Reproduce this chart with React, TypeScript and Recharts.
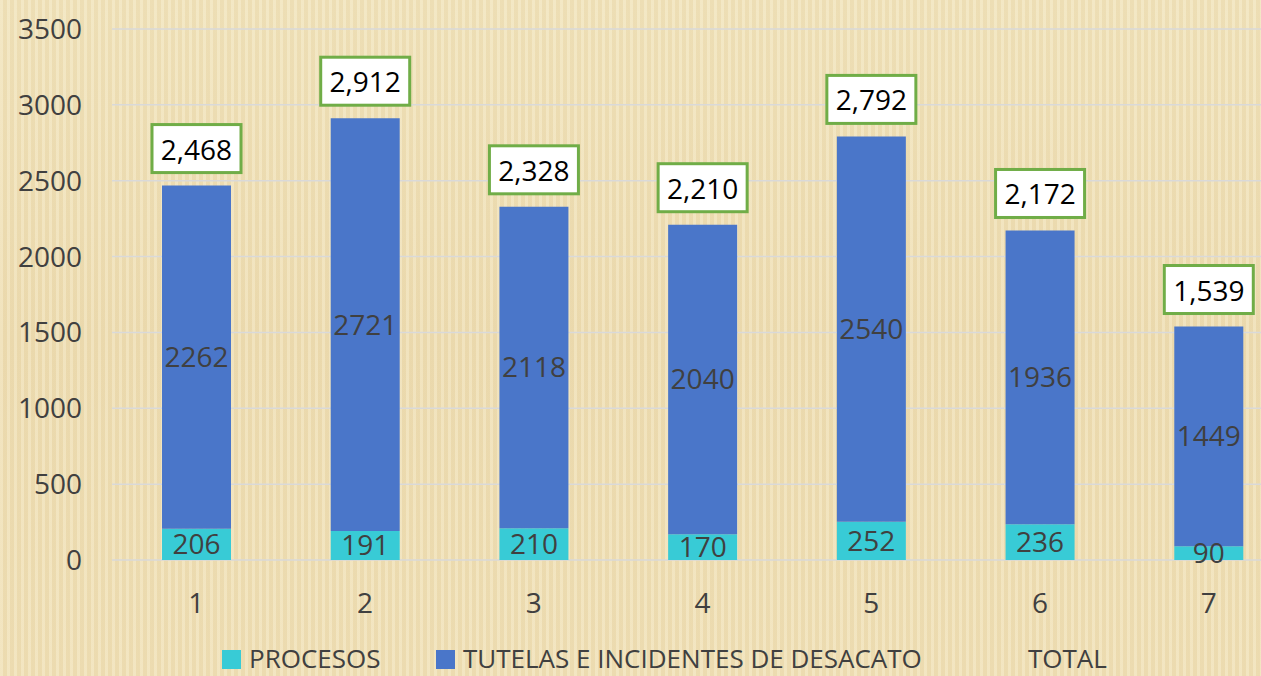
import { BarChart, Bar, XAxis, YAxis, CartesianGrid, LabelList } from 'recharts'

const CATEGORIES = ['1', '2', '3', '4', '5', '6', '7']
const PROCESOS = [206, 191, 210, 170, 252, 236, 90]
const TUTELAS = [2262, 2721, 2118, 2040, 2540, 1936, 1449]
const TOTAL = [2468, 2912, 2328, 2210, 2792, 2172, 1539]
const Y_TICKS = [0, 500, 1000, 1500, 2000, 2500, 3000, 3500]

const data = CATEGORIES.map((c, i) => ({
  name: c,
  procesos: PROCESOS[i],
  tutelas: TUTELAS[i],
  total: TOTAL[i],
}))

const FONT = '"Open Sans", "Noto Sans", sans-serif'
const TEXT = '#404040'

function TotalBox(props: any) {
  const { x, y, width, value } = props
  const cx = x + width / 2
  const w = 89
  const h = 48
  const top = y - 13 - h
  return (
    <g>
      <rect x={cx - w / 2} y={top} width={w} height={h} fill="#ffffff" stroke="#70AD47" strokeWidth={3} />
      <text x={cx} y={top + h / 2} textAnchor="middle" dominantBaseline="central"
        fontSize={28} fontFamily={FONT} fill="#000000">
        {Number(value).toLocaleString('en-US')}
      </text>
    </g>
  )
}

const legendText = { position: 'absolute' as const, top: 644, lineHeight: '28px', height: 28 }

export default function App() {
  return (
    <div style={{
      position: 'absolute', left: 0, top: 0, width: 1261, height: 676, overflow: 'hidden',
      background: 'repeating-linear-gradient(90deg, rgba(255,252,235,0.22) 0px, rgba(255,252,235,0.22) 3px, rgba(200,170,110,0.07) 3px, rgba(200,170,110,0.07) 7px), linear-gradient(180deg, #F0E2BA 0%, #EDDCB1 50%, #EFDFB5 100%)',
      fontFamily: FONT,
    }}>
      <BarChart width={1293} height={676} data={data}
        margin={{ top: 29, right: 0, left: 0, bottom: 56 }} barSize={69}>
        <CartesianGrid vertical={false} stroke="#D9D9D9" strokeWidth={1.5} />
        <XAxis dataKey="name" axisLine={false} tickLine={false} height={60} tickMargin={27}
          tick={{ fontSize: 28, fill: TEXT, fontFamily: FONT }} />
        <YAxis domain={[0, 3500]} ticks={Y_TICKS} width={112} axisLine={false} tickLine={false}
          tickMargin={24} interval={0}
          tick={{ fontSize: 28, fill: TEXT, fontFamily: FONT }} />
        <Bar dataKey="procesos" stackId="a" fill="#38CBD6" isAnimationActive={false}>
          <LabelList dataKey="procesos" position="center" fill={TEXT} fontSize={28} fontFamily={FONT} />
        </Bar>
        <Bar dataKey="tutelas" stackId="a" fill="#4A76C9" isAnimationActive={false}>
          <LabelList dataKey="tutelas" position="center" fill={TEXT} fontSize={28} fontFamily={FONT} />
          <LabelList dataKey="total" content={<TotalBox />} />
        </Bar>
      </BarChart>
      <div style={{ position: 'absolute', top: 0, left: 0, width: 1261, height: 676, fontSize: 26, color: TEXT, whiteSpace: 'nowrap', pointerEvents: 'none' }}>
        <span style={{ position: 'absolute', left: 222, top: 650, width: 19, height: 19, background: '#38CBD6' }} />
        <span style={{ ...legendText, left: 249 }}>PROCESOS</span>
        <span style={{ position: 'absolute', left: 436, top: 650, width: 19, height: 19, background: '#4A76C9' }} />
        <span style={{ ...legendText, left: 463 }}>TUTELAS E INCIDENTES DE DESACATO</span>
        <span style={{ ...legendText, left: 1028 }}>TOTAL</span>
      </div>
    </div>
  )
}
